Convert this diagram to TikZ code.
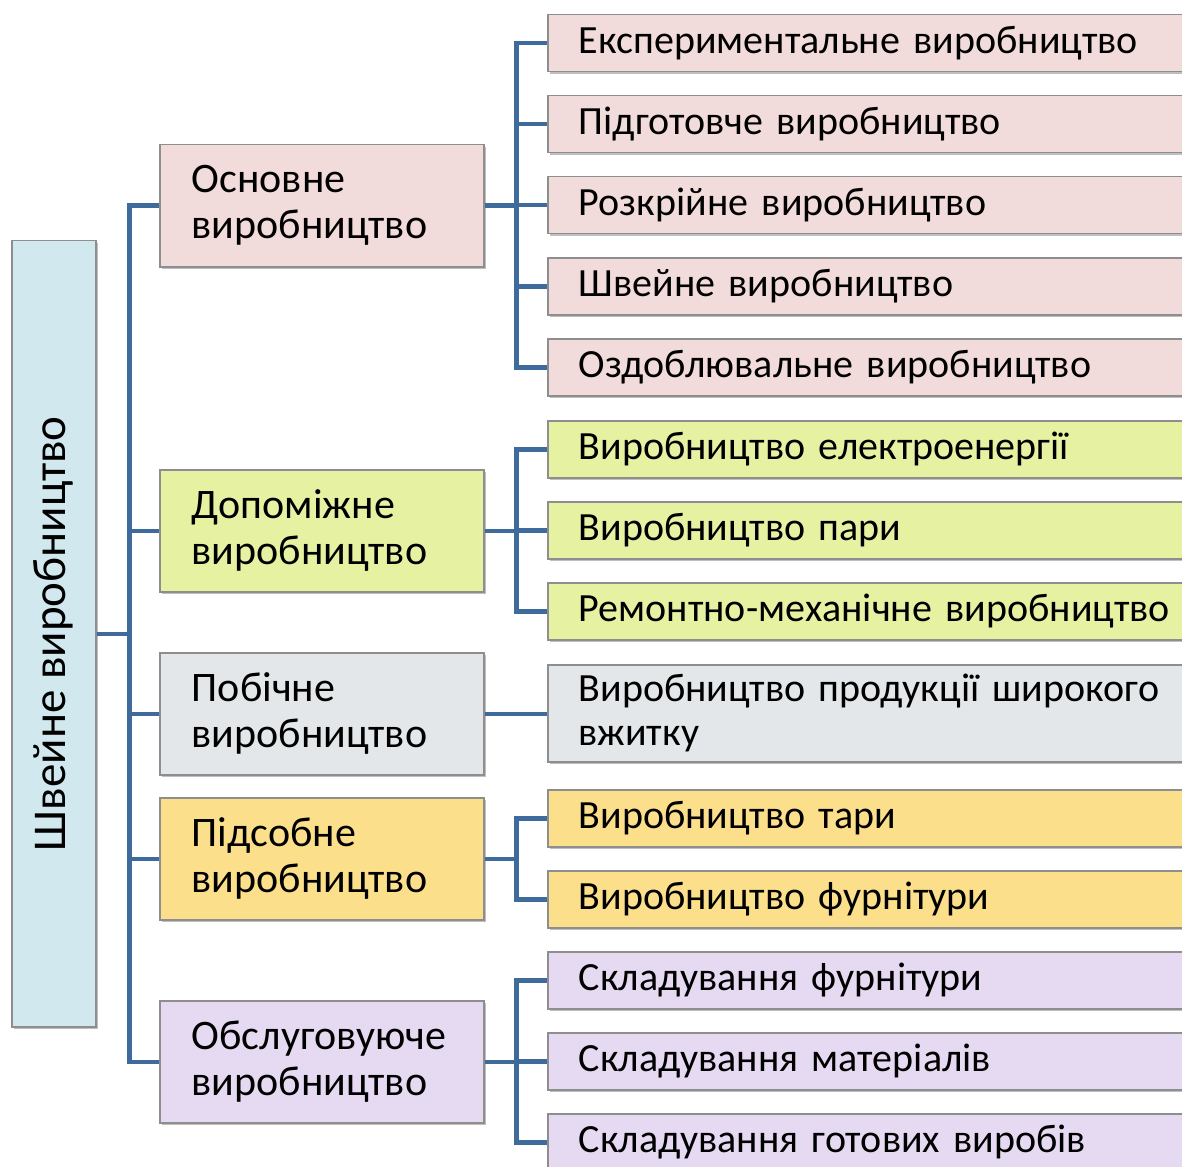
\documentclass[tikz,border=0pt]{standalone}
\usepackage{fontspec}
\setmainfont{Carlito}
\usetikzlibrary{shadows}
\definecolor{lnk}{HTML}{3F6A9C}
\definecolor{bordergray}{HTML}{8E8E8E}
\definecolor{cpink}{HTML}{F2DCDB}
\definecolor{cgreen}{HTML}{E6F2A2}
\definecolor{cgrey}{HTML}{E3E7E9}
\definecolor{cyellow}{HTML}{FCDF8A}
\definecolor{cviolet}{HTML}{E6DAF2}
\definecolor{cblue}{HTML}{D1E8EE}
\begin{document}
\begin{tikzpicture}[x=1pt,y=-1pt,
  box/.style={draw=bordergray, line width=1.5pt, drop shadow={shadow xshift=2.5pt, shadow yshift=-2.5pt, fill=black, opacity=0.25}, text=black},
  lone/.style={box, anchor=north west, minimum width=324pt, minimum height=122pt, text width=260pt, inner xsep=32pt, inner ysep=0pt, align=left, font=\fontsize{42}{46}\selectfont},
  ltwo/.style={box, anchor=north west, minimum width=662pt, minimum height=57pt, text width=600pt, inner xsep=31pt, inner ysep=0pt, align=left, font=\fontsize{40}{44}\selectfont},
  conn/.style={draw=lnk, line width=4.5pt}
]
\useasboundingbox (0,0) rectangle (1182,1166);
\clip (0,0) rectangle (1182,1166);

% root
\node[box, fill=cblue, anchor=north west, minimum width=84pt, minimum height=786pt, inner sep=0pt] (root) at (11,240) {};
\node[rotate=90, font=\fontsize{47}{52}\selectfont] (roottxt) at (root.center) {Швейне виробництво};

% level 1
\node[lone, fill=cpink] (osn) at (159,144) {Основне\\виробництво};
\node[lone, fill=cgreen] (dop) at (159,469) {Допоміжне\\виробництво};
\node[lone, fill=cgrey] (pob) at (159,652) {Побічне\\виробництво};
\node[lone, fill=cyellow] (pid) at (159,797) {Підсобне\\виробництво};
\node[lone, fill=cviolet] (obs) at (159,1000) {Обслуговуюче\\виробництво};

% level 2
\node[ltwo, fill=cpink] (a1) at (547,14) {Експериментальне виробництво};
\node[ltwo, fill=cpink] (a2) at (547,95) {Підготовче виробництво};
\node[ltwo, fill=cpink] (a3) at (547,176) {Розкрійне виробництво};
\node[ltwo, fill=cpink] (a4) at (547,257) {Швейне виробництво};
\node[ltwo, fill=cpink] (a5) at (547,338) {Оздоблювальне виробництво};
\node[ltwo, fill=cgreen] (b1) at (547,420) {Виробництво електроенергії};
\node[ltwo, fill=cgreen] (b2) at (547,501) {Виробництво пари};
\node[ltwo, fill=cgreen] (b3) at (547,582) {Ремонтно-механічне виробництво};
\node[ltwo, fill=cgrey, minimum height=97pt] (c1) at (547,664) {Виробництво продукції широкого\\вжитку};
\node[ltwo, fill=cyellow] (d1) at (547,789) {Виробництво тари};
\node[ltwo, fill=cyellow] (d2) at (547,870) {Виробництво фурнітури};
\node[ltwo, fill=cviolet] (e1) at (547,951) {Складування фурнітури};
\node[ltwo, fill=cviolet] (e2) at (547,1032) {Складування матеріалів};
\node[ltwo, fill=cviolet] (e3) at (547,1113) {Складування готових виробів};

% connectors root -> level 1
\foreach \t in {osn,dop,pob,pid,obs}
  \draw[conn] (root.east) -- ++(33,0) |- (\t.west);

% level 1 -> level 2
\foreach \t in {a1,a2,a3,a4,a5}
  \draw[conn] (osn.east) -- ++(32,0) |- (\t.west);
\foreach \t in {b1,b2,b3}
  \draw[conn] (dop.east) -- ++(32,0) |- (\t.west);
\draw[conn] (pob.east) -- (pob.east -| c1.west);
\foreach \t in {d1,d2}
  \draw[conn] (pid.east) -- ++(32,0) |- (\t.west);
\foreach \t in {e1,e2,e3}
  \draw[conn] (obs.east) -- ++(32,0) |- (\t.west);
\end{tikzpicture}
\end{document}
